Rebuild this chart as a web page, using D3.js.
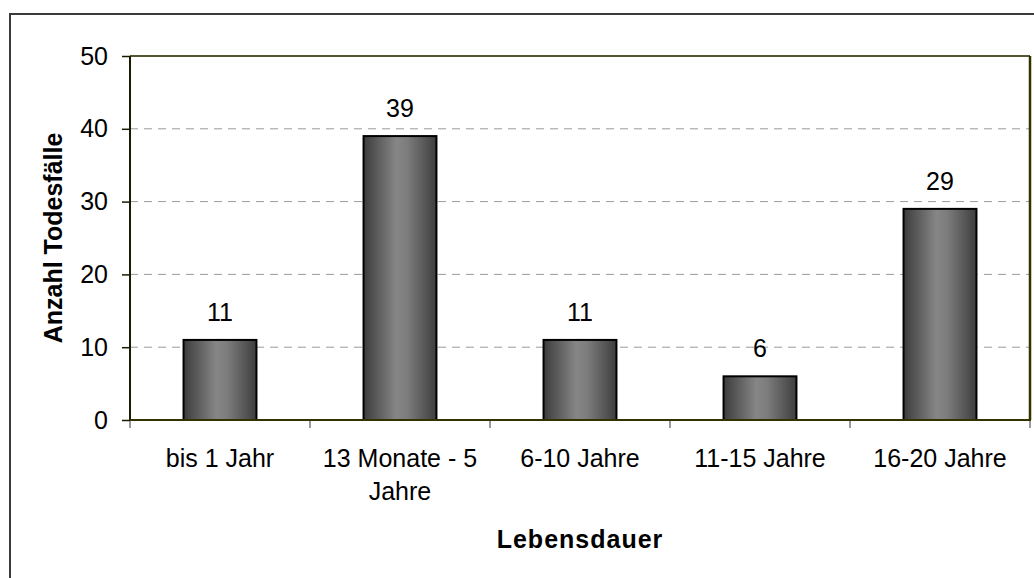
<!DOCTYPE html>
<html><head><meta charset="utf-8">
<script src="https://cdn.jsdelivr.net/npm/d3@7"></script>
<style>
html,body{margin:0;padding:0;background:#fff;}
svg{display:block;font-family:"Liberation Sans",Arial,sans-serif;}
</style></head>
<body>
<svg id="c" width="1034" height="578"></svg>
<script>
const categories = ["bis 1 Jahr","13 Monate - 5 Jahre","6-10 Jahre","11-15 Jahre","16-20 Jahre"];
const values = [11,39,11,6,29];
const yTicks = [0,10,20,30,40,50];
const yTitle = "Anzahl Todesfälle";
const xTitle = "Lebensdauer";

const svg = d3.select("#c");
const L = 130, R = 1030, T = 56, B = 420;

// outer chart border
svg.append("rect").attr("x",10).attr("y",14).attr("width",1200).attr("height",800)
  .attr("fill","none").attr("stroke","#3a3a3a").attr("stroke-width",2);

const defs = svg.append("defs");
const g = defs.append("linearGradient").attr("id","bg").attr("x1","0").attr("x2","1").attr("y1","0").attr("y2","0");
[[0,"#3c3c3c"],[0.45,"#868686"],[0.6,"#7c7c7c"],[1,"#3e3e3e"]].forEach(([o,c])=>g.append("stop").attr("offset",o).attr("stop-color",c));

const x = d3.scaleBand().domain(categories).range([L,R]).paddingInner(0.595).paddingOuter(0.2975);
const y = d3.scaleLinear().domain([0,50]).range([B,T]);

// gridlines
svg.append("g").selectAll("line").data(yTicks.filter(t=>t>0 && t<50)).join("line")
  .attr("x1",L).attr("x2",R).attr("y1",d=>y(d)).attr("y2",d=>y(d))
  .attr("stroke","#9a9a9a").attr("stroke-width",1).attr("stroke-dasharray","8,6");

// y axis
const yAxis = d3.axisLeft(y).tickValues(yTicks).tickSize(8).tickPadding(14);
const ya = svg.append("g").attr("transform",`translate(${L},0)`).call(yAxis);
ya.select(".domain").remove();
ya.selectAll(".tick line").attr("stroke","#1a1a00").attr("stroke-width",1.5);
ya.selectAll(".tick text").attr("font-size",25).attr("fill","#000").attr("font-family","Liberation Sans, Arial, sans-serif");

// x ticks at boundaries
const bounds = d3.range(categories.length+1).map(i=>L + i*x.step());
svg.append("g").selectAll("line").data(bounds).join("line")
  .attr("x1",d=>d).attr("x2",d=>d).attr("y1",B).attr("y2",B+8)
  .attr("stroke","#7a7a7a").attr("stroke-width",1.5);

// bars
svg.append("g").selectAll("rect").data(values).join("rect")
  .attr("x",(d,i)=>x(categories[i])).attr("width",x.bandwidth())
  .attr("y",d=>y(d)).attr("height",d=>B-y(d))
  .attr("fill","url(#bg)").attr("stroke","#000").attr("stroke-width",2);

// value labels
svg.append("g").selectAll("text").data(values).join("text")
  .attr("x",(d,i)=>x(categories[i])+x.bandwidth()/2).attr("y",d=>y(d)-19)
  .attr("text-anchor","middle").attr("font-size",25).attr("fill","#000").text(d=>d);

// plot frame
svg.append("line").attr("x1",L).attr("x2",R).attr("y1",T).attr("y2",T).attr("stroke","#55552e").attr("stroke-width",2);
svg.append("line").attr("x1",R).attr("x2",R).attr("y1",T).attr("y2",B).attr("stroke","#333300").attr("stroke-width",2.5);
svg.append("line").attr("x1",L).attr("x2",L).attr("y1",T).attr("y2",B+1).attr("stroke","#1a1a00").attr("stroke-width",2);
svg.append("line").attr("x1",L).attr("x2",R+1).attr("y1",B).attr("y2",B).attr("stroke","#333300").attr("stroke-width",2);

// category labels with wrapping
const xl = svg.append("g");
categories.forEach((c,i)=>{
  const cx = x(c)+x.bandwidth()/2;
  const t = xl.append("text").attr("x",cx).attr("y",467).attr("text-anchor","middle").attr("font-size",25).attr("fill","#000");
  const words = c.split(" ");
  let line = [], lineNo = 0;
  let ts = t.append("tspan").attr("x",cx).attr("y",467);
  words.forEach(w=>{
    line.push(w);
    ts.text(line.join(" "));
    if (ts.node().getComputedTextLength() > 170 && line.length>1) {
      line.pop(); ts.text(line.join(" "));
      line = [w]; lineNo++;
      ts = t.append("tspan").attr("x",cx).attr("y",467+lineNo*33).text(w);
    }
  });
});

// titles
svg.append("text").attr("x",(L+R)/2).attr("y",548).attr("text-anchor","middle")
  .attr("font-size",25).attr("font-weight","bold").attr("letter-spacing",1).attr("fill","#000").text(xTitle);
svg.append("text").attr("transform",`translate(62,${(T+B)/2}) rotate(-90)`).attr("text-anchor","middle")
  .attr("font-size",25).attr("font-weight","bold").attr("fill","#000").text(yTitle);
</script>
</body></html>
